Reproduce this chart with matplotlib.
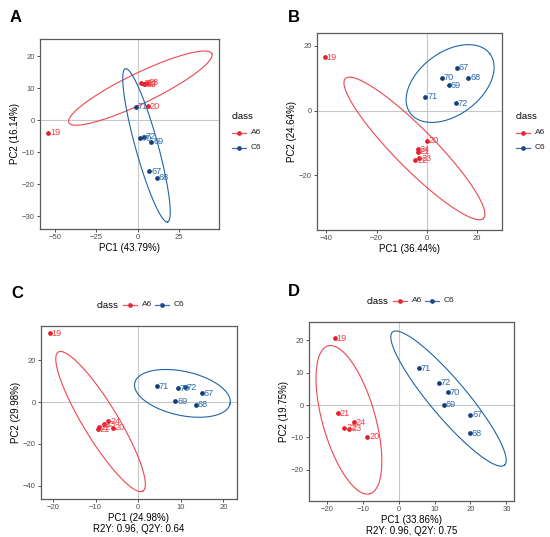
import numpy as np
import matplotlib.pyplot as plt
from matplotlib.lines import Line2D

plt.rcParams["font.family"] = ["Liberation Sans", "DejaVu Sans"]

W, H = 550, 537
RED_PT, RED_TXT, RED_ELL = "#E3202C", "#EE4048", "#EE4650"
BLUE_PT, BLUE_TXT, BLUE_ELL = "#123F7C", "#2C6CAE", "#1E65A6"

a6_ids = ["19", "20", "21", "22", "23", "24"]
c6_ids = ["67", "68", "69", "70", "71", "72"]

# ellipse = [centre x, centre y, major tip x, major tip y, minor tip x, minor tip y]

# Panel A (PCA)
pa_a6_x = [-54.1, 6.0, 2.2, 4.4, 5.4, 4.0]
pa_a6_y = [-3.9, 4.4, 11.6, 11.2, 11.8, 11.4]
pa_c6_x = [7.0, 11.7, 8.25, 1.2, -1.0, 3.6]
pa_c6_y = [-16.0, -17.9, -6.8, -5.6, 4.2, -5.2]
pa_ell_a6 = [1.61, 10.05, 44.87, 20.84, 5.51, 5.78]
pa_ell_c6 = [5.33, -7.84, 18.1, -31.8, 11.93, -6.93]

# Panel B (PCA)
pb_a6_x = [-40.5, 0.13, -3.45, -4.5, -2.9, -3.45]
pb_a6_y = [16.5, -9.4, -12.8, -15.4, -14.85, -12.06]
pb_c6_x = [11.95, 16.6, 8.76, 5.98, -0.53, 11.7]
pb_c6_y = [13.3, 10.2, 7.8, 10.1, 4.2, 2.2]
pb_ell_a6 = [-4.91, -11.75, 22.58, -33.4, 0.76, -7.41]
pb_ell_c6 = [9.30, 8.35, 25.13, 17.57, 16.79, 0.60]

# Panel C (PLS-DA)
pc_a6_x = [-20.7, -6.0, -9.5, -9.2, -8.1, -7.0]
pc_a6_y = [33.0, -12.3, -13.1, -12.0, -10.7, -9.1]
pc_c6_x = [14.98, 13.57, 8.7, 9.25, 4.39, 10.9]
pc_c6_y = [4.3, -1.28, 0.48, 6.7, 7.66, 7.2]
pc_ell_a6 = [-8.82, -9.33, 1.10, -42.6, -5.33, -5.04]
pc_ell_c6 = [10.39, 4.15, 21.58, -0.86, 9.28, -6.14]

# Panel D (PLS-DA)
pd_a6_x = [-17.7, -8.7, -16.9, -15.1, -13.7, -12.5]
pd_a6_y = [20.7, -9.8, -2.6, -7.1, -7.4, -5.3]
pd_c6_x = [20.0, 19.8, 12.6, 13.8, 5.7, 11.3]
pd_c6_y = [-3.0, -8.7, 0.1, 4.0, 11.4, 6.9]
pd_ell_a6 = [-13.8, -4.57, -7.99, -27.45, -6.73, -2.38]
pd_ell_c6 = [13.89, 2.0, 29.45, -18.6, 17.82, 5.64]


def px_axes(fig, l, t, r, b):
    return fig.add_axes([l / W, 1 - b / H, (r - l) / W, (b - t) / H])


def ellipse(ax, e, color):
    t = np.linspace(0, 2 * np.pi, 300)
    cx, cy, mx, my, nx, ny = e
    x = cx + (mx - cx) * np.cos(t) + (nx - cx) * np.sin(t)
    y = cy + (my - cy) * np.cos(t) + (ny - cy) * np.sin(t)
    ax.plot(x, y, color=color, lw=0.8, zorder=3)


def panel(ax, a6x, a6y, c6x, c6y, ell_a6, ell_c6, xlim, ylim, xticks, yticks,
          xlabel, ylabel):
    ax.axhline(0, color="#C8C8C8", lw=0.8, zorder=1)
    ax.axvline(0, color="#C8C8C8", lw=0.8, zorder=1)
    ellipse(ax, ell_a6, RED_ELL)
    ellipse(ax, ell_c6, BLUE_ELL)
    for xs, ys, ids, pc, tc in [(a6x, a6y, a6_ids, RED_PT, RED_TXT),
                                (c6x, c6y, c6_ids, BLUE_PT, BLUE_TXT)]:
        ax.plot(xs, ys, "o", ms=2.4, color=pc, zorder=4)
        for x, y, s in zip(xs, ys, ids):
            ax.annotate(s, (x, y), xytext=(1.3, 0), textcoords="offset points",
                        ha="left", va="center", fontsize=6.6, color=tc, zorder=5)
    ax.set_xlim(*xlim)
    ax.set_ylim(*ylim)
    ax.set_xticks(xticks)
    ax.set_yticks(yticks)
    ax.tick_params(labelsize=5.5, labelcolor="#4D4D4D", color="#333333",
                   length=2.2, width=0.6, pad=1.5)
    for sp in ax.spines.values():
        sp.set_color("#5A5A5A")
        sp.set_linewidth(0.9)
    ax.set_xlabel(xlabel, fontsize=7, labelpad=1.5, linespacing=1.05)
    ax.set_ylabel(ylabel, fontsize=7, labelpad=1.5)


def legend_key(fig, x0, y, color, tcolor, label):
    f = fig.transFigure
    xs = [x0 / W, (x0 + 14) / W]
    ys = [1 - y / H, 1 - y / H]
    fig.add_artist(Line2D(xs, ys, color=color, lw=0.9, alpha=0.75, transform=f))
    fig.add_artist(Line2D([(x0 + 7) / W], [1 - y / H], marker="o", ms=2.3,
                          color=color, transform=f))
    fig.text((x0 + 7) / W, 1 - y / H, "a", fontsize=4.5, color=tcolor,
             ha="center", va="center", alpha=0.8)
    fig.text((x0 + 19) / W, 1 - y / H, label, fontsize=6, ha="left",
             va="center", color="#222222")


fig = plt.figure(figsize=(W / 100, H / 100), dpi=100)

axA = px_axes(fig, 40, 39, 219, 229)
panel(axA, pa_a6_x, pa_a6_y, pa_c6_x, pa_c6_y, pa_ell_a6, pa_ell_c6,
      (-59.1, 49.2), (-34.0, 25.4), [-50, -25, 0, 25], [-30, -20, -10, 0, 10, 20],
      "PC1 (43.79%)", "PC2 (16.14%)")

axB = px_axes(fig, 317, 33, 502, 230)
panel(axB, pb_a6_x, pb_a6_y, pb_c6_x, pb_c6_y, pb_ell_a6, pb_ell_c6,
      (-43.7, 29.96), (-37.0, 24.0), [-40, -20, 0, 20], [-20, 0, 20],
      "PC1 (36.44%)", "PC2 (24.64%)")

axC = px_axes(fig, 41, 326, 237, 499)
panel(axC, pc_a6_x, pc_a6_y, pc_c6_x, pc_c6_y, pc_ell_a6, pc_ell_c6,
      (-22.8, 23.2), (-46.4, 36.4), [-20, -10, 0, 10, 20], [-40, -20, 0, 20],
      "PC1 (24.98%)\nR2Y: 0.96, Q2Y: 0.64", "PC2 (29.98%)")

axD = px_axes(fig, 309, 322, 514, 501)
panel(axD, pd_a6_x, pd_a6_y, pd_c6_x, pd_c6_y, pd_ell_a6, pd_ell_c6,
      (-24.9, 32.1), (-29.7, 25.7), [-20, -10, 0, 10, 20, 30], [-20, -10, 0, 10, 20],
      "PC1 (33.86%)\nR2Y: 0.96, Q2Y: 0.75", "PC2 (19.75%)")

# panel letters
for s, x, y in [("A", 16, 17), ("B", 294, 17), ("C", 17, 293), ("D", 294, 291)]:
    fig.text(x / W, 1 - y / H, s, fontsize=12, weight="bold", ha="center", va="center")

# legends on the right (A, B)
for x0 in (232, 516):
    fig.text(x0 / W, 1 - 117 / H, "class", fontsize=6.8, ha="left", va="center")
    legend_key(fig, x0, 133, RED_PT, RED_TXT, "A6")
    legend_key(fig, x0, 148, BLUE_PT, BLUE_TXT, "C6")

# legends on top (C, D)
for x0, y in [(97, 305), (367, 301)]:
    fig.text(x0 / W, 1 - y / H, "class", fontsize=6.8, ha="left", va="center")
    legend_key(fig, x0 + 26, y, RED_PT, RED_TXT, "A6")
    legend_key(fig, x0 + 58, y, BLUE_PT, BLUE_TXT, "C6")

fig.savefig("out.png", dpi=100)
